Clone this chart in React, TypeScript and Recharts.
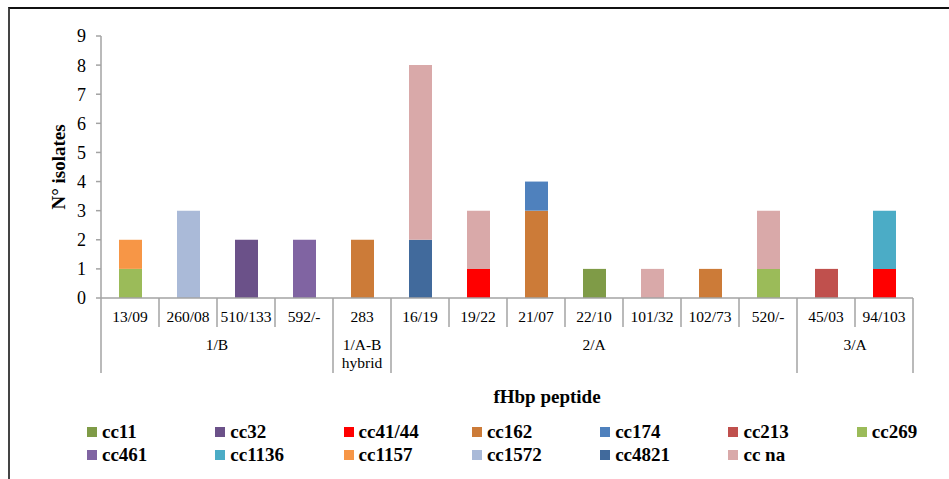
import React from "react";
import { BarChart, Bar, XAxis, YAxis } from "recharts";

const categories = [
  "13/09", "260/08", "510/133", "592/-", "283", "16/19", "19/22",
  "21/07", "22/10", "101/32", "102/73", "520/-", "45/03", "94/103",
];

// variant/family groups under the peptides
const groups = [
  { lines: ["1/B"], span: 4 },
  { lines: ["1/A-B", "hybrid"], span: 1 },
  { lines: ["2/A"], span: 7 },
  { lines: ["3/A"], span: 2 },
];

const seriesNames = [
  "cc11", "cc32", "cc41/44", "cc162", "cc174", "cc213", "cc269",
  "cc461", "cc1136", "cc1157", "cc1572", "cc4821", "cc na",
];
const seriesColors = [
  "#7F9B47", "#6B5189", "#FF0000", "#CC7B38", "#4F81BD", "#C0504D", "#9BBB59",
  "#8064A2", "#4BACC6", "#F79646", "#AABAD8", "#416A9C", "#D9A9A9",
];

const cc11 = [0, 0, 0, 0, 0, 0, 0, 0, 1, 0, 0, 0, 0, 0];
const cc32 = [0, 0, 2, 0, 0, 0, 0, 0, 0, 0, 0, 0, 0, 0];
const cc41_44 = [0, 0, 0, 0, 0, 0, 1, 0, 0, 0, 0, 0, 0, 1];
const cc162 = [0, 0, 0, 0, 2, 0, 0, 3, 0, 0, 1, 0, 0, 0];
const cc174 = [0, 0, 0, 0, 0, 0, 0, 1, 0, 0, 0, 0, 0, 0];
const cc213 = [0, 0, 0, 0, 0, 0, 0, 0, 0, 0, 0, 0, 1, 0];
const cc269 = [1, 0, 0, 0, 0, 0, 0, 0, 0, 0, 0, 1, 0, 0];
const cc461 = [0, 0, 0, 2, 0, 0, 0, 0, 0, 0, 0, 0, 0, 0];
const cc1136 = [0, 0, 0, 0, 0, 0, 0, 0, 0, 0, 0, 0, 0, 2];
const cc1157 = [1, 0, 0, 0, 0, 0, 0, 0, 0, 0, 0, 0, 0, 0];
const cc1572 = [0, 3, 0, 0, 0, 0, 0, 0, 0, 0, 0, 0, 0, 0];
const cc4821 = [0, 0, 0, 0, 0, 2, 0, 0, 0, 0, 0, 0, 0, 0];
const ccNa = [0, 0, 0, 0, 0, 6, 2, 0, 0, 1, 0, 2, 0, 0];

const seriesValues = [
  cc11, cc32, cc41_44, cc162, cc174, cc213, cc269,
  cc461, cc1136, cc1157, cc1572, cc4821, ccNa,
];

const yTicks = [0, 1, 2, 3, 4, 5, 6, 7, 8, 9];

const data = categories.map((name, i) => {
  const row: Record<string, string | number> = { name };
  seriesNames.forEach((s, j) => {
    row[s] = seriesValues[j][i];
  });
  return row;
});

const WIDTH = 949;
const HEIGHT = 479;
const MARGIN = { top: 36, right: 36, left: 41, bottom: 106 };
const Y_AXIS_W = 60;
const PLOT_W = WIDTH - MARGIN.left - MARGIN.right - Y_AXIS_W;
const STEP = PLOT_W / categories.length;
const LINE = "#A3A3A3";
const SERIF = "'Liberation Serif', 'Times New Roman', serif";

// index of the first category of each group
const groupStarts: Record<number, (typeof groups)[number]> = {};
let acc = 0;
groups.forEach((g) => {
  groupStarts[acc] = g;
  acc += g.span;
});

const CategoryTick = (props: any) => {
  const { x, y, payload, index } = props;
  const left = x - STEP / 2;
  const group = groupStarts[index];
  const isLast = index === categories.length - 1;
  return (
    <g>
      <text x={x} y={y + 24} textAnchor="middle" fontSize={15.5} fill="#000">
        {payload.value}
      </text>
      <line x1={left} x2={left} y1={y} y2={group ? y + 75 : y + 29} stroke={LINE} strokeWidth={1.5} />
      {isLast && (
        <line x1={x + STEP / 2} x2={x + STEP / 2} y1={y} y2={y + 75} stroke={LINE} strokeWidth={1.5} />
      )}
      {group &&
        group.lines.map((t, k) => (
          <text
            key={t}
            x={left + (group.span * STEP) / 2}
            y={y + 52 + k * 18}
            textAnchor="middle"
            fontSize={15.5}
            fill="#000"
          >
            {t}
          </text>
        ))}
    </g>
  );
};

export default function App() {
  return (
    <div style={{ position: "relative", width: WIDTH, height: HEIGHT, overflow: "hidden", background: "#fff" }}>
      <style>{`body { margin: 0; } svg text { font-family: ${SERIF} !important; }`}</style>
      <div
        style={{
          position: "absolute",
          left: 8,
          top: 7,
          width: WIDTH,
          height: HEIGHT,
          borderTop: "2px solid #111",
          borderLeft: "2px solid #444",
        }}
      />
      <div style={{ position: "absolute", left: 0, top: 0 }}>
        <BarChart width={WIDTH} height={HEIGHT} data={data} margin={MARGIN} barSize={23}>
          <YAxis
            width={Y_AXIS_W}
            domain={[0, 9]}
            ticks={yTicks}
            interval={0}
            axisLine={{ stroke: LINE, strokeWidth: 1.5 }}
            tickLine={{ stroke: LINE, strokeWidth: 1.5 }}
            tickSize={5}
            tickMargin={10}
            tick={{ fill: "#000", fontSize: 18 }}
            label={{
              content: (p: any) => {
                const vb = p.viewBox;
                const cx = 58;
                const cy = vb.y + vb.height / 2;
                return (
                  <text
                    x={cx}
                    y={cy}
                    transform={`rotate(-90 ${cx} ${cy})`}
                    textAnchor="middle"
                    dominantBaseline="central"
                    fontWeight="bold"
                    fontSize={19}
                    fill="#000"
                  >
                    N° isolates
                  </text>
                );
              },
            }}
          />
          <XAxis
            dataKey="name"
            height={75}
            interval={0}
            tickSize={0}
            tickMargin={0}
            tickLine={false}
            axisLine={{ stroke: LINE, strokeWidth: 1.5 }}
            tick={<CategoryTick />}
            label={{
              content: (p: any) => {
                const vb = p.viewBox;
                return (
                  <text
                    x={vb.x + vb.width / 2 + 40}
                    y={vb.y + vb.height + 30}
                    textAnchor="middle"
                    fontWeight="bold"
                    fontSize={19}
                    fill="#000"
                  >
                    fHbp peptide
                  </text>
                );
              },
            }}
          />
          {seriesNames.map((s, j) => (
            <Bar key={s} dataKey={s} stackId="a" fill={seriesColors[j]} isAnimationActive={false} />
          ))}
        </BarChart>
      </div>
      <div
        style={{
          position: "absolute",
          left: 87,
          top: 420,
          display: "grid",
          gridTemplateColumns: "repeat(7, 128.3px)",
          gridAutoRows: "23px",
          fontFamily: SERIF,
          fontWeight: "bold",
          fontSize: 19,
          color: "#000",
        }}
      >
        {seriesNames.map((s, j) => (
          <div key={s} style={{ display: "flex", alignItems: "center", whiteSpace: "nowrap" }}>
            <span style={{ display: "inline-block", width: 10, height: 10, background: seriesColors[j], marginRight: 5 }} />
            {s}
          </div>
        ))}
      </div>
    </div>
  );
}
